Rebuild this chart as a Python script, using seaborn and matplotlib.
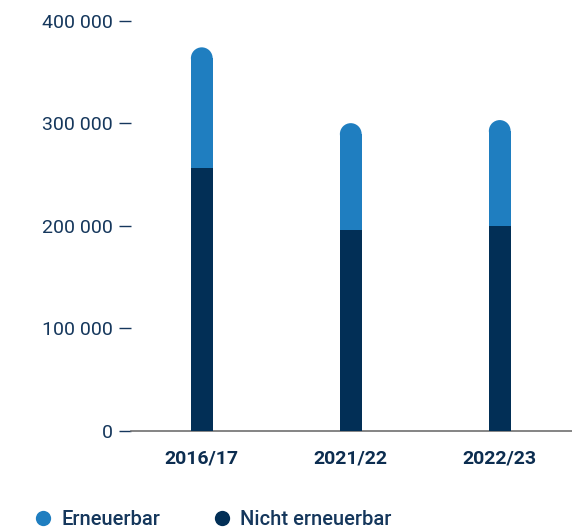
import matplotlib
matplotlib.use('Agg')
import matplotlib.pyplot as plt
import seaborn as sns
import pandas as pd
from matplotlib.patches import Ellipse
from matplotlib.lines import Line2D

# ---- data ----
years = ['2016/17', '2021/22', '2022/23']
nicht_erneuerbar = [256000, 196000, 200000]
erneuerbar = [118000, 104000, 103000]
y_ticks = [0, 100000, 200000, 300000, 400000]
legend_labels = ['Erneuerbar', 'Nicht erneuerbar']

LIGHT = '#1f7ec0'
NAVY = '#022f56'
TEXT = '#15375c'
XTEXT = '#0c2d50'

sns.set_theme(style='white')
plt.rcParams['font.family'] = ['Roboto', 'DejaVu Sans']

totals = [a + b for a, b in zip(nicht_erneuerbar, erneuerbar)]
df = pd.DataFrame({'Jahr': years, 'Gesamt': totals, 'Nicht': nicht_erneuerbar})

W, H = 572, 531
fig = plt.figure(figsize=(W / 100, H / 100), dpi=100)
ax_left, ax_right, ax_top, ax_bottom = 131, 572, 20.7, 430.5
ax = fig.add_axes([ax_left / W, 1 - ax_bottom / H,
                   (ax_right - ax_left) / W, (ax_bottom - ax_top) / H])

bw = 0.146
sns.barplot(data=df, x='Jahr', y='Gesamt', color=LIGHT, width=bw,
            saturation=1, errorbar=None, ax=ax, zorder=2,
            linewidth=0, edgecolor='none')
light_patches = list(ax.patches)
sns.barplot(data=df, x='Jahr', y='Nicht', color=NAVY, width=bw,
            saturation=1, errorbar=None, ax=ax, zorder=3,
            linewidth=0, edgecolor='none')

xmin, xmax = -0.475, 2.485
ymax = 400000
ax.set_xlim(xmin, xmax)
ax.set_ylim(0, ymax)

px_per_x = (ax_right - ax_left) / (xmax - xmin)
px_per_y = (ax_bottom - ax_top) / ymax
aspect = px_per_x / px_per_y

# rounded (semicircular) top on the light segment
for p in light_patches:
    x, w, h = p.get_x(), p.get_width(), p.get_height()
    r_y = (w / 2) * aspect
    p.set_height(h - r_y)
    ax.add_patch(Ellipse((x + w / 2, h - r_y), w, 2 * r_y,
                         fc=LIGHT, ec='none', lw=0, zorder=2))

ax.set_xlabel('')
ax.set_ylabel('')
ax.set_yticks(y_ticks)
ax.set_yticklabels([f'{v:,}'.replace(',', ' ') for v in y_ticks])

sns.despine(ax=ax, left=True)
ax.spines['bottom'].set_color('#707070')
ax.spines['bottom'].set_linewidth(1.2)

ax.tick_params(axis='y', left=True, direction='out', length=9, width=1,
               color=TEXT, labelsize=14, labelcolor=TEXT, pad=4)
ax.tick_params(axis='x', bottom=False, length=0, pad=13.5, labelsize=14,
               labelcolor=XTEXT)
for t in ax.get_xticklabels():
    t.set_fontweight('bold')

handles = [Line2D([], [], marker='o', linestyle='none', markersize=11,
                  markerfacecolor=c, markeredgecolor='none')
           for c in (LIGHT, NAVY)]
fig.legend(handles, legend_labels, loc='center left',
           bbox_to_anchor=(35.3 / W, 11.5 / H), ncol=2, frameon=False,
           handlelength=0.8, handletextpad=0.5,
           columnspacing=2.65, borderpad=0, borderaxespad=0,
           labelcolor=TEXT, prop={'weight': 'medium', 'size': 14.5})

fig.savefig('out.png', dpi=100)
